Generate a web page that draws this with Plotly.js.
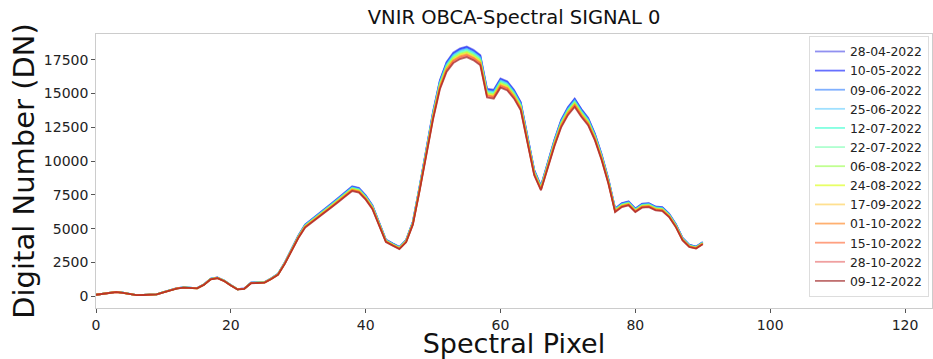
<!DOCTYPE html>
<html>
<head>
<meta charset="utf-8">
<script src="https://cdn.plot.ly/plotly-3.0.1.min.js"></script>
<style>
  html, body { margin: 0; padding: 0; background: #ffffff; }
  #chart { width: 933px; height: 359px; }
</style>
</head>
<body>
<div id="chart"></div>
<script>
// Spectral pixel index 0..90
const pixels = Array.from({length: 91}, (_, i) => i);

const dates = ["28-04-2022","10-05-2022","09-06-2022","25-06-2022","12-07-2022","22-07-2022",
               "06-08-2022","24-08-2022","17-09-2022","01-10-2022","15-10-2022","28-10-2022","09-12-2022"];

const d_28_04 = [120,182,252,332,272,182,90,100,110,152, 312,474,604,664,634,614,886,1310,1400,1178, 836,534,584,1018,1038,1058,1340,1672,2508,3506, 4492,5308,5690,6084,6476,6900,7312,7736,8138,8018, 7474,6738,5490,4200,3918,3656,4180,5540,8148,10968, 13688,15984,17344,18030,18342,18482,18230,17848,15360,15280, 16126,15914,15280,14374,11804,9358,8188,9932,11604,13064, 14000,14636,13860,13204,12046,10516,8702,6506,6900,7030, 6506,6860,6900,6648,6598,6124,5348,4332,3818,3686, 4018];
const d_10_05 = [120,181,251,331,271,181,90,100,110,151, 311,472,602,662,632,612,883,1305,1395,1174, 833,532,582,1014,1034,1054,1335,1666,2499,3493, 4476,5289,5670,6062,6453,6875,7286,7708,8109,7989, 7447,6714,5470,4185,3904,3643,4165,5520,8119,10929, 13639,15927,17282,17965,18276,18416,18165,17784,15305,15225, 16068,15857,15225,14322,11762,9324,8159,9896,11562,13017, 13950,14583,13810,13157,12003,10478,8671,6483,6875,7005, 6483,6835,6875,6624,6574,6102,5329,4316,3804,3673, 4004];
const d_09_06 = [120,180,250,330,270,180,90,100,110,150, 310,470,600,660,630,610,880,1300,1390,1170, 830,530,580,1010,1030,1050,1330,1660,2490,3480, 4460,5270,5650,6040,6430,6850,7260,7680,8080,7960, 7420,6690,5450,4170,3890,3630,4150,5500,8090,10890, 13590,15870,17220,17900,18210,18350,18100,17720,15250,15170, 16010,15800,15170,14270,11720,9290,8130,9860,11520,12970, 13900,14530,13760,13110,11960,10440,8640,6460,6850,6980, 6460,6810,6850,6600,6550,6080,5310,4300,3790,3660, 3990];
const d_25_06 = [120,179,249,329,269,179,90,100,110,149, 309,468,598,658,628,608,877,1295,1385,1166, 827,528,578,1006,1026,1046,1325,1654,2481,3467, 4444,5251,5630,6018,6407,6825,7234,7652,8051,7931, 7393,6666,5430,4155,3876,3617,4135,5480,8061,10851, 13541,15813,17158,17835,18144,18284,18035,17656,15195,15115, 15952,15743,15115,14218,11678,9256,8101,9824,11478,12923, 13850,14477,13710,13063,11917,10402,8609,6437,6825,6955, 6437,6785,6825,6576,6526,6058,5291,4284,3776,3647, 3976];
const d_12_07 = [120,178,248,328,268,178,90,100,110,148, 308,466,596,656,626,606,874,1290,1380,1162, 824,526,576,1002,1022,1042,1320,1648,2472,3454, 4428,5232,5610,5996,6384,6800,7208,7624,8022,7902, 7366,6642,5410,4140,3862,3604,4120,5460,8032,10812, 13492,15756,17096,17770,18078,18218,17970,17592,15140,15060, 15894,15686,15060,14166,11636,9222,8072,9788,11436,12876, 13800,14424,13660,13016,11874,10364,8578,6414,6800,6930, 6414,6760,6800,6552,6502,6036,5272,4268,3762,3634, 3962];
const d_22_07 = [120,177,247,327,267,177,90,100,110,147, 307,464,594,654,624,604,871,1285,1375,1158, 821,524,574,998,1018,1038,1315,1642,2463,3441, 4412,5213,5590,5974,6361,6775,7182,7596,7993,7873, 7339,6618,5390,4125,3848,3591,4105,5440,8003,10773, 13443,15699,17034,17705,18012,18152,17905,17528,15085,15005, 15836,15629,15005,14114,11594,9188,8043,9752,11394,12829, 13750,14371,13610,12969,11831,10326,8547,6391,6775,6905, 6391,6735,6775,6528,6478,6014,5253,4252,3748,3621, 3948];
const d_06_08 = [120,176,246,326,266,176,90,100,110,146, 306,462,592,652,622,602,868,1280,1370,1154, 818,522,572,994,1014,1034,1310,1636,2454,3428, 4396,5194,5570,5952,6338,6750,7156,7568,7964,7844, 7312,6594,5370,4110,3834,3578,4090,5420,7974,10734, 13394,15642,16972,17640,17946,18086,17840,17464,15030,14950, 15778,15572,14950,14062,11552,9154,8014,9716,11352,12782, 13700,14318,13560,12922,11788,10288,8516,6368,6750,6880, 6368,6710,6750,6504,6454,5992,5234,4236,3734,3608, 3934];
const d_24_08 = [120,175,245,325,265,175,90,100,110,145, 305,460,590,650,620,600,865,1275,1365,1150, 815,520,570,990,1010,1030,1305,1630,2445,3415, 4380,5175,5550,5930,6315,6725,7130,7540,7935,7815, 7285,6570,5350,4095,3820,3565,4075,5400,7945,10695, 13345,15585,16910,17575,17880,18020,17775,17400,14975,14895, 15720,15515,14895,14010,11510,9120,7985,9680,11310,12735, 13650,14265,13510,12875,11745,10250,8485,6345,6725,6855, 6345,6685,6725,6480,6430,5970,5215,4220,3720,3595, 3920];
const d_17_09 = [120,174,244,324,264,174,90,100,110,144, 304,458,588,648,618,598,862,1270,1360,1146, 812,518,568,986,1006,1026,1300,1624,2436,3402, 4364,5156,5530,5908,6292,6700,7104,7512,7906,7786, 7258,6546,5330,4080,3806,3552,4060,5380,7916,10656, 13296,15528,16848,17510,17814,17954,17710,17336,14920,14840, 15662,15458,14840,13958,11468,9086,7956,9644,11268,12688, 13600,14212,13460,12828,11702,10212,8454,6322,6700,6830, 6322,6660,6700,6456,6406,5948,5196,4204,3706,3582, 3906];
const d_01_10 = [120,173,243,323,263,173,90,100,110,143, 303,456,586,646,616,596,859,1265,1355,1142, 809,516,566,982,1002,1022,1295,1618,2427,3389, 4348,5137,5510,5886,6269,6675,7078,7484,7877,7757, 7231,6522,5310,4065,3792,3539,4045,5360,7887,10617, 13247,15471,16786,17445,17748,17888,17645,17272,14865,14785, 15604,15401,14785,13906,11426,9052,7927,9608,11226,12641, 13550,14159,13410,12781,11659,10174,8423,6299,6675,6805, 6299,6635,6675,6432,6382,5926,5177,4188,3692,3569, 3892];
const d_15_10 = [120,172,242,322,262,172,90,100,110,142, 302,454,584,644,614,594,856,1260,1350,1138, 806,514,564,978,998,1018,1290,1612,2418,3376, 4332,5118,5490,5864,6246,6650,7052,7456,7848,7728, 7204,6498,5290,4050,3778,3526,4030,5340,7858,10578, 13198,15414,16724,17380,17682,17822,17580,17208,14810,14730, 15546,15344,14730,13854,11384,9018,7898,9572,11184,12594, 13500,14106,13360,12734,11616,10136,8392,6276,6650,6780, 6276,6610,6650,6408,6358,5904,5158,4172,3678,3556, 3878];
const d_28_10 = [120,171,241,321,261,171,90,100,110,141, 301,452,582,642,612,592,853,1255,1345,1134, 803,512,562,974,994,1014,1285,1606,2409,3363, 4316,5099,5470,5842,6223,6625,7026,7428,7819,7699, 7177,6474,5270,4035,3764,3513,4015,5320,7829,10539, 13149,15357,16662,17315,17616,17756,17515,17144,14755,14675, 15488,15287,14675,13802,11342,8984,7869,9536,11142,12547, 13450,14053,13310,12687,11573,10098,8361,6253,6625,6755, 6253,6585,6625,6384,6334,5882,5139,4156,3664,3543, 3864];
const d_09_12 = [120,170,240,320,260,170,90,100,110,140, 300,450,580,640,610,590,850,1250,1340,1130, 800,510,560,970,990,1010,1280,1600,2400,3350, 4300,5080,5450,5820,6200,6600,7000,7400,7790,7670, 7150,6450,5250,4020,3750,3500,4000,5300,7800,10500, 13100,15300,16600,17250,17550,17690,17450,17080,14700,14620, 15430,15230,14620,13750,11300,8950,7840,9500,11100,12500, 13400,14000,13260,12640,11530,10060,8330,6230,6600,6730, 6230,6560,6600,6360,6310,5860,5120,4140,3650,3530, 3850];

const seriesValues = [d_28_04, d_10_05, d_09_06, d_25_06, d_12_07, d_22_07, d_06_08,
                      d_24_08, d_17_09, d_01_10, d_15_10, d_28_10, d_09_12];

const lineColors = ["rgba(70,70,230,0.6)","rgba(0,17,255,0.6)","rgba(43,123,255,0.6)","rgba(97,203,255,0.6)",
                    "rgba(43,255,203,0.6)","rgba(123,255,177,0.6)","rgba(150,255,70,0.6)","rgba(217,255,0,0.6)",
                    "rgba(255,203,70,0.6)","rgba(255,123,17,0.6)","rgba(255,97,43,0.6)","rgba(230,97,97,0.6)",
                    "rgba(150,17,17,0.6)"];

const xTicks = [0, 20, 40, 60, 80, 100, 120];
const yTicks = [0, 2500, 5000, 7500, 10000, 12500, 15000, 17500];

const FONT = "DejaVu Sans, Liberation Sans, sans-serif";

const traces = dates.map((d, i) => ({
  type: "scatter",
  mode: "lines",
  x: pixels,
  y: seriesValues[i],
  name: d,
  line: {color: lineColors[i], width: 1.8},
  hoverinfo: "skip"
}));

const layout = {
  width: 933,
  height: 359,
  margin: {l: 96, r: 1, t: 34, b: 51, pad: 0},
  paper_bgcolor: "#ffffff",
  plot_bgcolor: "#ffffff",
  font: {family: FONT, color: "#222222"},
  title: {
    text: "VNIR OBCA-Spectral SIGNAL 0",
    font: {family: FONT, size: 19.5, color: "#111111"},
    x: 0.551, xanchor: "center",
    y: 0.953, yanchor: "middle"
  },
  xaxis: {
    range: [0, 124],
    tickmode: "array",
    tickvals: xTicks,
    ticktext: xTicks.map(String),
    ticks: "outside",
    ticklen: 3.5,
    tickwidth: 1,
    tickcolor: "#555555",
    tickfont: {family: FONT, size: 14, color: "#222222"},
    showgrid: false,
    zeroline: false,
    showline: true,
    linecolor: "#cccccc",
    linewidth: 1.3,
    mirror: true,
    title: {text: "Spectral Pixel", font: {family: FONT, size: 27, color: "#111111"}, standoff: 7}
  },
  yaxis: {
    range: [-860, 19400],
    tickmode: "array",
    tickvals: yTicks,
    ticktext: yTicks.map(String),
    ticks: "outside",
    ticklen: 3.5,
    tickwidth: 1,
    tickcolor: "#555555",
    tickfont: {family: FONT, size: 14, color: "#222222"},
    showgrid: false,
    zeroline: false,
    showline: true,
    linecolor: "#cccccc",
    linewidth: 1.3,
    mirror: true,
    title: {text: "Digital Number (DN)", font: {family: FONT, size: 29, color: "#111111"}, standoff: 0}
  },
  showlegend: true,
  legend: {
    x: 0.9964, xanchor: "right",
    y: 0.993, yanchor: "top",
    bgcolor: "rgba(255,255,255,0.9)",
    bordercolor: "#dddddd",
    borderwidth: 1,
    font: {family: FONT, size: 12.4, color: "#222222"},
    itemwidth: 30
  }
};

Plotly.newPlot("chart", traces, layout, {displayModeBar: false, staticPlot: true});
</script>
</body>
</html>
